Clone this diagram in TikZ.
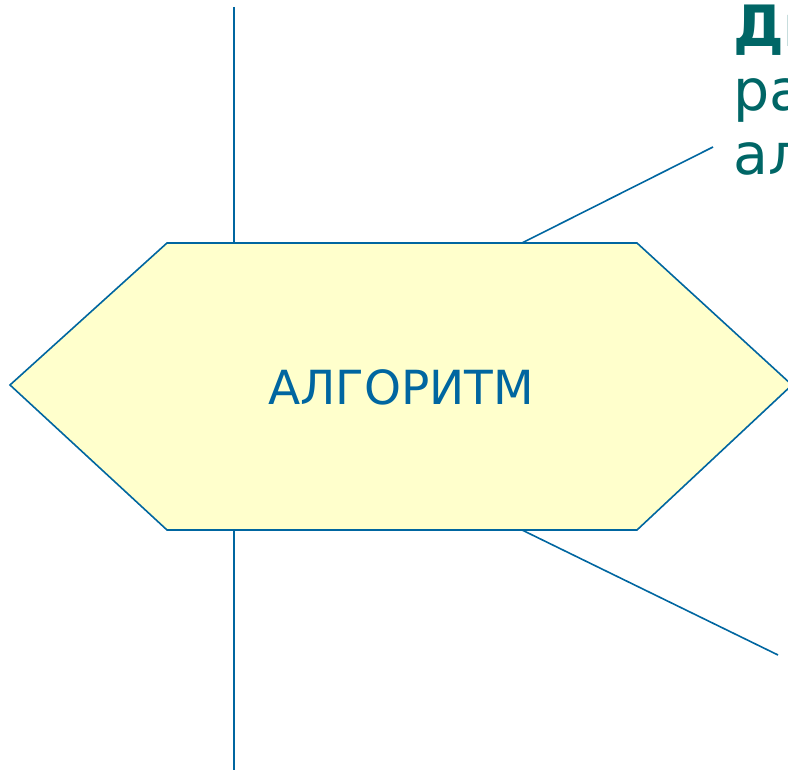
\documentclass[tikz,border=0pt]{standalone}
\usepackage{fontspec}
\setmainfont{DejaVu Sans}
\usetikzlibrary{calc}
\definecolor{linkblue}{HTML}{0066A0}
\definecolor{hexfill}{HTML}{FFFFCC}
\definecolor{noteteal}{HTML}{006666}
\tikzset{
  link/.style={draw=linkblue, line width=1.6pt},
  hexbox/.style={draw=linkblue, fill=hexfill, line width=1.6pt},
}
\begin{document}
\begin{tikzpicture}[x=1pt, y=1pt]
 % Frame
 \useasboundingbox (0,0) rectangle (788,770);
 \clip (0,0) rectangle (788,770);

 % Hexagon corners
 \coordinate (hl) at (10,385);
 \coordinate (htl) at (167,527);
 \coordinate (htr) at (637,527);
 \coordinate (hr) at (792,385);
 \coordinate (hbr) at (637,240);
 \coordinate (hbl) at (167,240);
 \path[hexbox] (hl) -- (htl) -- (htr) -- (hr) -- (hbr) -- (hbl) -- cycle;
 \node (algo) at (401,383) {\fontsize{47}{50}\selectfont\color{linkblue}АЛГОРИТМ};

 % Free ends of the connectors
 \coordinate (vtop) at (234,763);
 \coordinate (vtopend) at (234,527);
 \coordinate (vbot) at (234,0);
 \coordinate (vbotend) at (234,240);
 \coordinate (uend) at (522,527);
 \coordinate (utip) at (713,623);
 \coordinate (dend) at (522,240);
 \coordinate (dtip) at (778,115);

 % Note text (cut by the frame)
 \node[anchor=base west, inner sep=0pt, align=left, text=noteteal,
       font=\fontsize{57}{64}\selectfont] (note) at (733,595)
   {{\fontsize{57}{64}\selectfont\bfseries Ди}\\ра\\ал};

 % Connections
 \draw[link] (vtop) -- (vtopend);
 \draw[link] (vbotend) -- (vbot);
 \draw[link] (uend) -- (utip);
 \draw[link] (dend) -- (dtip);
\end{tikzpicture}
\end{document}
